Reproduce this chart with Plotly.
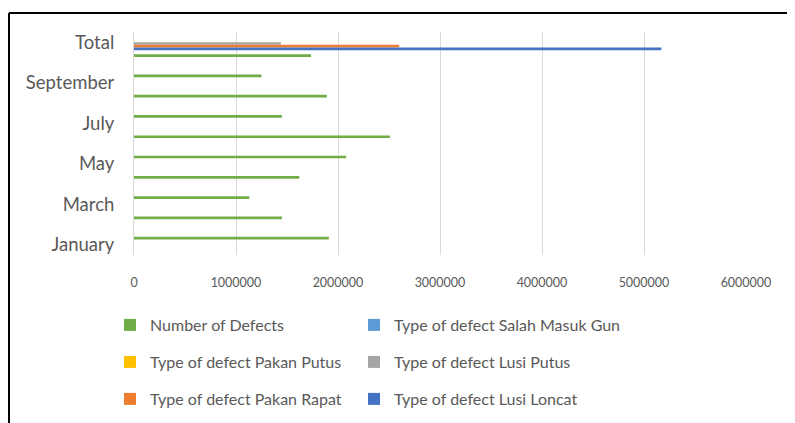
import plotly.graph_objects as go

# ---- data ----
categories = ["January", "February", "March", "April", "May", "June",
              "July", "August", "September", "October", "Total"]
shown_labels = ["January", "March", "May", "July", "September", "Total"]

number_of_defects = [1910000, 1450000, 1130000, 1620000, 2080000, 2510000,
                     1450000, 1890000, 1250000, 1735000, None]
salah_masuk_gun = [None, None, None, None, None, None, None, None, None, None, None]
pakan_putus = [None, None, None, None, None, None, None, None, None, None, None]
lusi_putus = [None, None, None, None, None, None, None, None, None, None, 1440000]
pakan_rapat = [None, None, None, None, None, None, None, None, None, None, 2600000]
lusi_loncat = [None, None, None, None, None, None, None, None, None, None, 5170000]

x_ticks = [0, 1000000, 2000000, 3000000, 4000000, 5000000, 6000000]

series_names = ["Number of Defects", "Type of defect Salah Masuk Gun",
                "Type of defect Pakan Putus", "Type of defect Lusi Putus",
                "Type of defect Pakan Rapat", "Type of defect Lusi Loncat"]
series_values = [number_of_defects, salah_masuk_gun, pakan_putus,
                 lusi_putus, pakan_rapat, lusi_loncat]
series_colors = ["#70AD47", "#5B9BD5", "#FFC000", "#A5A5A5", "#ED7D31", "#4472C4"]

FONT = "Lato"
TXT = "#595959"

# page body has an 8px default margin; figure sized so it ends at the window edge
OFF = 8
W, H = 795 - OFF, 423 - OFF
L, R, T, B = 134 - OFF, 49, 32 - OFF, 168
pw, ph = W - L - R, H - T - B


def px_x(p):  # screen pixel -> paper x
    return (p - OFF - L) / pw


def px_y(p):  # screen pixel -> paper y
    return (H - B - (p - OFF)) / ph


# legend grid: 2 columns x 3 rows (row-major order like the reference)
leg_cols = [110, 354]
leg_rows = [325, 362, 399]

fig = go.Figure()
legends = {}
for i, (name, vals, color) in enumerate(zip(series_names, series_values, series_colors)):
    key = "legend" if i == 0 else f"legend{i + 1}"
    fig.add_trace(go.Bar(
        y=categories, x=vals, name=name, orientation="h",
        marker=dict(color=color, line=dict(width=0)),
        legend=key, showlegend=True,
    ))
    legends[key] = dict(
        orientation="h", xanchor="left", yanchor="middle",
        x=px_x(leg_cols[i % 2]), y=px_y(leg_rows[i // 2]),
        font=dict(family=FONT, size=16, color=TXT),
        bgcolor="rgba(0,0,0,0)", itemwidth=30,
    )

fig.update_layout(
    width=W, height=H,
    margin=dict(l=L, r=R, t=T, b=B, autoexpand=False),
    paper_bgcolor="white", plot_bgcolor="white",
    barmode="group", bargap=0.2, bargroupgap=0,
    font=dict(family=FONT, color=TXT),
    xaxis=dict(range=[0, 6000000], tickvals=x_ticks,
               ticktext=[str(v) for v in x_ticks],
               showgrid=True, gridcolor="#d9d9d9", gridwidth=1,
               zeroline=False, showline=False, ticks="",
               tickfont=dict(family=FONT, size=12.5, color=TXT),
               ticklabelstandoff=18, automargin=False),
    yaxis=dict(categoryorder="array", categoryarray=categories[::-1],
               autorange="reversed", tickvals=shown_labels,
               showgrid=False, showline=True, linecolor="#d9d9d9", linewidth=1,
               ticks="", tickfont=dict(family=FONT, size=18.5, color=TXT),
               ticklabelstandoff=15, automargin=False),
    shapes=[
        dict(type="line", xref="paper", yref="paper",
             x0=px_x(9), x1=px_x(796), y0=px_y(13), y1=px_y(13),
             line=dict(color="black", width=2)),
        dict(type="line", xref="paper", yref="paper",
             x0=px_x(9), x1=px_x(9), y0=px_y(13), y1=px_y(424),
             line=dict(color="black", width=2)),
    ],
    **legends,
)

fig.write_html("out.html")
